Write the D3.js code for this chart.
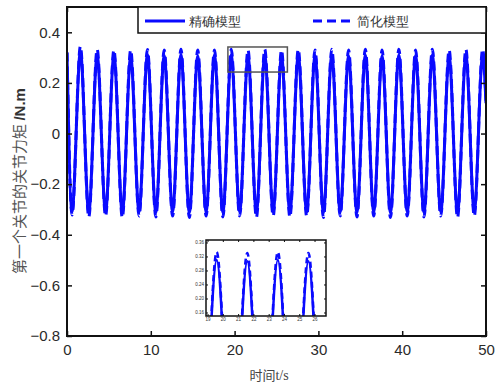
<!DOCTYPE html>
<html><head><meta charset="utf-8">
<script src="https://cdn.jsdelivr.net/npm/d3@7/dist/d3.min.js"></script>
<style>
html,body{margin:0;padding:0;background:#fff;}
svg{display:block;}
text{font-family:"Liberation Sans",Arial,sans-serif;}
</style></head>
<body>
<svg id="c" width="501" height="385"></svg>
<script>
// ---- data ----
const times = [0, 0.6, 1.6, 2.6, 3.6, 4.6, 5.6, 6.6, 7.6, 8.6, 9.6, 10.6, 11.6, 12.6, 13.6, 14.6, 15.6, 16.6, 17.6, 18.6, 19.6, 20.6, 21.6, 22.6, 23.6, 24.6, 25.6, 26.6, 27.6, 28.6, 29.6, 30.6, 31.6, 32.6, 33.6, 34.6, 35.6, 36.6, 37.6, 38.6, 39.6, 40.6, 41.6, 42.6, 43.6, 44.6, 45.6, 46.6, 47.6, 48.6, 49.6, 50];
const accurate = [0.32, -0.31, 0.325, -0.312, 0.31, -0.31, 0.312, -0.313, 0.305, -0.31, 0.312, -0.312, 0.308, -0.31, 0.312, -0.313, 0.306, -0.31, 0.31, -0.312, 0.31, -0.31, 0.306, -0.313, 0.31, -0.31, 0.306, -0.312, 0.31, -0.31, 0.308, -0.313, 0.31, -0.31, 0.306, -0.312, 0.31, -0.31, 0.306, -0.313, 0.31, -0.31, 0.308, -0.312, 0.31, -0.31, 0.306, -0.313, 0.31, -0.31, 0.31, 0.12];
const simplified = [0.32, -0.322, 0.345, -0.33, 0.333, -0.326, 0.33, -0.332, 0.33, -0.326, 0.332, -0.33, 0.33, -0.326, 0.333, -0.332, 0.33, -0.326, 0.33, -0.33, 0.333, -0.326, 0.33, -0.332, 0.333, -0.326, 0.33, -0.33, 0.333, -0.326, 0.33, -0.332, 0.333, -0.326, 0.33, -0.33, 0.333, -0.326, 0.33, -0.332, 0.333, -0.326, 0.33, -0.33, 0.333, -0.326, 0.33, -0.332, 0.333, -0.326, 0.333, 0.13];
const seriesNames = ["精确模型", "简化模型"];
const xTicks = [0, 10, 20, 30, 40, 50];
const yTicks = [-0.8, -0.6, -0.4, -0.2, 0, 0.2, 0.4];
const zoomT = [19.2, 26.3];
const zoomV = [0.243, 0.342];
const insetT = [18.9, 26.75];
const insetV = [0.15, 0.367];
const insetXTicks = [19, 20, 21, 22, 23, 24, 25, 26];
const insetYTicks = [0.16, 0.20, 0.24, 0.28, 0.32, 0.36];

// ---- layout ----
const svg = d3.select("#c");
const L = 67, R = 486, T = 7, B = 336;
const blue = "#0a0aff";
const x = d3.scaleLinear().domain([0, 50]).range([L, R]);
const y = d3.scaleLinear().domain([-0.8, 0.5]).range([B, T]);

const ptsA = times.map((t, i) => [t, accurate[i]]);
const ptsS = times.map((t, i) => [t, simplified[i]]);

svg.append("defs").append("clipPath").attr("id", "clipMain")
  .append("rect").attr("x", L).attr("y", T).attr("width", R - L).attr("height", B - T);

const line = d3.line().x(d => x(d[0])).y(d => y(d[1])).curve(d3.curveMonotoneX);
const gm = svg.append("g").attr("clip-path", "url(#clipMain)");
gm.append("path").attr("d", line(ptsA)).attr("fill", "none").attr("stroke", blue).attr("stroke-width", 3);
gm.append("path").attr("d", line(ptsS)).attr("fill", "none").attr("stroke", blue).attr("stroke-width", 3).attr("stroke-dasharray", "9,5");

// axes
const ax = svg.append("g").attr("transform", `translate(0,${B})`)
  .call(d3.axisBottom(x).tickValues(xTicks).tickSize(-5).tickPadding(8).tickFormat(d3.format("d")));
const axTop = svg.append("g").attr("transform", `translate(0,${T})`)
  .call(d3.axisTop(x).tickValues(xTicks).tickSize(-5).tickFormat(""));
const ay = svg.append("g").attr("transform", `translate(${L},0)`)
  .call(d3.axisLeft(y).tickValues(yTicks).tickSize(-5).tickPadding(7).tickFormat(d => d === 0 ? "0" : d3.format(".1f")(d)));
const ayR = svg.append("g").attr("transform", `translate(${R},0)`)
  .call(d3.axisRight(y).tickValues(yTicks).tickSize(-5).tickFormat(""));
[ax, axTop, ay, ayR].forEach(g => {
  g.select(".domain").remove();
  g.selectAll(".tick line").attr("stroke", "#111").attr("stroke-width", 1.5);
  g.selectAll("text").attr("font-size", 15).attr("fill", "#2a2a2a").attr("font-family", "'Liberation Sans',Arial,sans-serif");
});
svg.append("rect").attr("x", L).attr("y", T).attr("width", R - L).attr("height", B - T)
  .attr("fill", "none").attr("stroke", "#111").attr("stroke-width", 2);

// zoom window rect
svg.append("rect").attr("x", x(zoomT[0])).attr("y", y(zoomV[1]))
  .attr("width", x(zoomT[1]) - x(zoomT[0])).attr("height", y(zoomV[0]) - y(zoomV[1]))
  .attr("fill", "none").attr("stroke", "#555").attr("stroke-width", 1.5);

// labels
svg.append("text").attr("x", 269).attr("y", 380).attr("text-anchor", "middle").attr("font-size", 13).attr("fill", "#444")
  .call(t => {
    t.append("tspan").attr("font-family", "'Noto Sans CJK SC',sans-serif").text("时间");
    t.append("tspan").attr("font-family", "'Liberation Serif','Times New Roman',serif").attr("font-size", 14).text("t/s");
  });
svg.append("text").attr("transform", "translate(25,181) rotate(-90)").attr("text-anchor", "middle").attr("font-size", 15).attr("fill", "#555")
  .call(t => {
    t.append("tspan").attr("font-family", "'Noto Sans CJK SC',sans-serif").text("第一个关节的关节力矩 ");
    t.append("tspan").attr("font-family", "'Liberation Sans',Arial,sans-serif").attr("font-weight", "bold").attr("fill", "#333").text("/N.m");
  });

// legend
const lg = svg.append("g");
lg.append("rect").attr("x", 138).attr("y", T).attr("width", R - 138).attr("height", 26)
  .attr("fill", "#fff").attr("stroke", "#111").attr("stroke-width", 1.5);
const legendItems = [{name: seriesNames[0], x0: 145, dash: null}, {name: seriesNames[1], x0: 313, dash: "9,5"}];
legendItems.forEach(it => {
  lg.append("line").attr("x1", it.x0).attr("x2", it.x0 + 40).attr("y1", 21).attr("y2", 21)
    .attr("stroke", blue).attr("stroke-width", 3).attr("stroke-dasharray", it.dash);
  lg.append("text").attr("x", it.x0 + 44).attr("y", 26).attr("font-size", 13).attr("fill", "#333")
    .attr("font-family", "'Noto Sans CJK SC',sans-serif").text(it.name);
});

// inset
const iL = 206, iR = 326, iT = 240, iB = 316;
const xi = d3.scaleLinear().domain(insetT).range([iL, iR]);
const yi = d3.scaleLinear().domain(insetV).range([iB, iT]);
svg.append("rect").attr("x", iL).attr("y", iT).attr("width", iR - iL).attr("height", iB - iT).attr("fill", "#fff");
svg.select("defs").append("clipPath").attr("id", "clipIn")
  .append("rect").attr("x", iL).attr("y", iT).attr("width", iR - iL).attr("height", iB - iT);
const lineI = d3.line().x(d => xi(d[0])).y(d => yi(d[1])).curve(d3.curveMonotoneX);
const gi = svg.append("g").attr("clip-path", "url(#clipIn)");
gi.append("path").attr("d", lineI(ptsA)).attr("fill", "none").attr("stroke", blue).attr("stroke-width", 2.5);
gi.append("path").attr("d", lineI(ptsS)).attr("fill", "none").attr("stroke", blue).attr("stroke-width", 2.5).attr("stroke-dasharray", "6,4");
const ix = svg.append("g").attr("transform", `translate(0,${iB})`)
  .call(d3.axisBottom(xi).tickValues(insetXTicks).tickSize(-2).tickPadding(2).tickFormat(d3.format("d")));
const ixT = svg.append("g").attr("transform", `translate(0,${iT})`)
  .call(d3.axisTop(xi).tickValues(insetXTicks).tickSize(-2).tickFormat(""));
const iy = svg.append("g").attr("transform", `translate(${iL},0)`)
  .call(d3.axisLeft(yi).tickValues(insetYTicks).tickSize(-2).tickPadding(2).tickFormat(d3.format(".2f")));
const iyR = svg.append("g").attr("transform", `translate(${iR},0)`)
  .call(d3.axisRight(yi).tickValues(insetYTicks).tickSize(-2).tickFormat(""));
[ix, ixT, iy, iyR].forEach(g => {
  g.select(".domain").remove();
  g.selectAll(".tick line").attr("stroke", "#111");
  g.selectAll("text").attr("font-size", 4.5).attr("fill", "#333");
});
svg.append("rect").attr("x", iL).attr("y", iT).attr("width", iR - iL).attr("height", iB - iT)
  .attr("fill", "none").attr("stroke", "#111").attr("stroke-width", 1.5);
</script>
</body></html>
